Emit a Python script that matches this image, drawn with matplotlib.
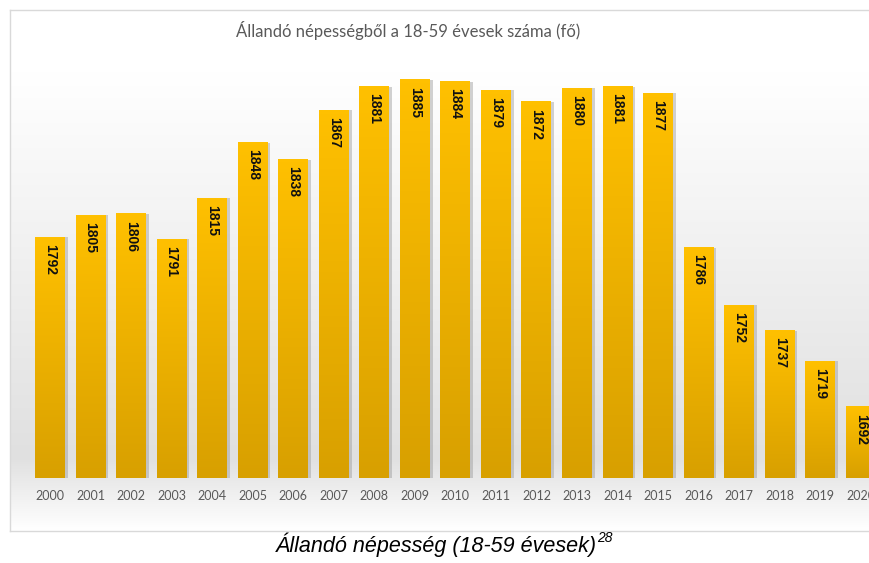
import numpy as np
import matplotlib.pyplot as plt
from matplotlib.colors import LinearSegmentedColormap

years = [str(y) for y in range(2000, 2021)]
values = [1792, 1805, 1806, 1791, 1815, 1848, 1838, 1867, 1881, 1885, 1884,
          1879, 1872, 1880, 1881, 1877, 1786, 1752, 1737, 1719, 1692]

title = 'Állandó népességből a 18-59 évesek száma (fő)'
caption = 'Állandó népesség (18-59 évesek)'

W, H = 869, 563
fig = plt.figure(figsize=(W / 100, H / 100), dpi=100)

# background panel with soft grey gradient
bg = fig.add_axes([10 / W, 1 - 531 / H, 1.0, (531 - 10) / H])
bg_cmap = LinearSegmentedColormap.from_list('bg', [(0, '#ffffff'), (0.12, '#ffffff'),
                                                   (0.86, '#e0e0e0'), (1.0, '#ffffff')])
grad = np.linspace(0, 1, 256).reshape(-1, 1)
bg.imshow(grad, cmap=bg_cmap, aspect='auto', extent=(0, 1, 1, 0))
bg.set_xlim(0, 1)
bg.set_ylim(1, 0)
bg.set_xticks([])
bg.set_yticks([])
for s in bg.spines.values():
    s.set_color('#d9d9d9')
    s.set_linewidth(1)

ax = fig.add_axes([29.7 / W, 1 - 478 / H, (W - 29.7) / W, (478 - 54.5) / H])
ax.patch.set_alpha(0)
bar_cmap = LinearSegmentedColormap.from_list('bar', ['#d8a000', '#ffc000'])
x = np.arange(len(years))
base = 1650
w = 0.74
for xi, v in zip(x, values):
    # shadow
    ax.bar(xi + 0.07, v - base, bottom=base, width=w, color='#9a9a9a', alpha=0.45, zorder=1)
    ax.imshow(np.linspace(0, 1, 100).reshape(-1, 1), cmap=bar_cmap, origin='lower',
              aspect='auto', extent=(xi - w / 2, xi + w / 2, base, v), zorder=2)
    ax.text(xi, v - 4, str(v), rotation=-90, ha='center', va='top', fontsize=10,
            fontweight='bold', family='Liberation Sans', color='#111111', zorder=3)

ax.set_xlim(-0.5, 20.5 - 12 / 40.55)
ax.set_ylim(base, 1900)
ax.set_xticks(x)
ax.set_xticklabels(years, fontsize=9, color='#595959', family='Lato')
ax.tick_params(axis='x', length=0, pad=9)
ax.set_yticks([])
for s in ax.spines.values():
    s.set_visible(False)

fig.text(408 / W, 1 - 31 / H, title, ha='center', va='center', fontsize=12,
         color='#595959', family='Lato')
fig.text(436 / W, 1 - 545 / H, caption, ha='center', va='center', fontsize=15.5,
         style='italic', family='Liberation Sans', color='black')
fig.text(597 / W, 1 - 538 / H, '28', ha='left', va='center', fontsize=10,
         style='italic', family='Liberation Sans', color='black')

fig.savefig('out.png', dpi=100)
